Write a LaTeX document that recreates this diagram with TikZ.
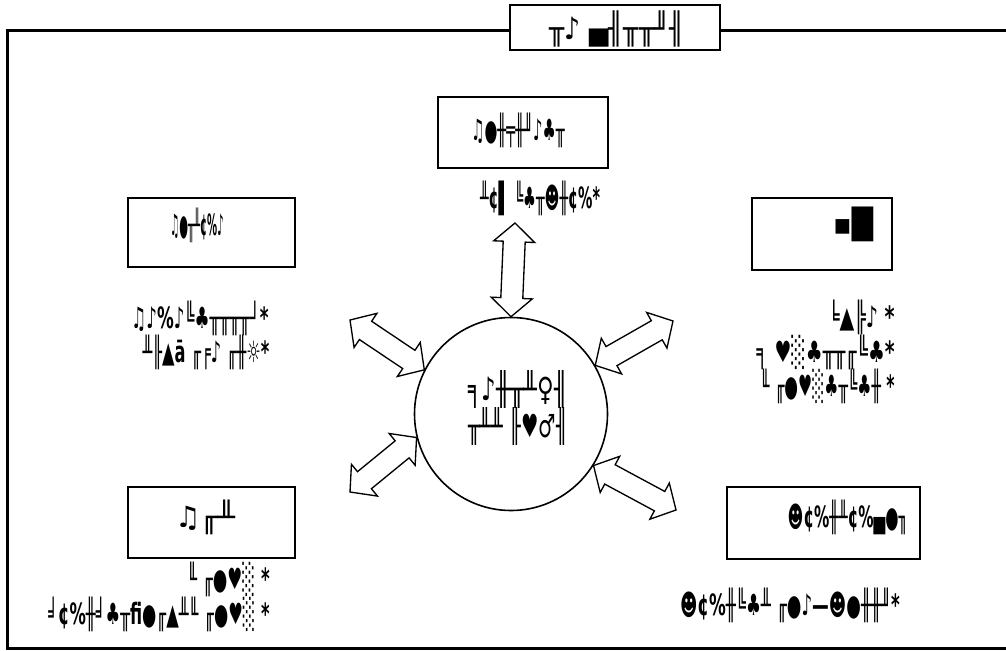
\documentclass[tikz,border=0pt]{standalone}
\usepackage{fontspec}
\setmainfont{DejaVu Sans}
\usetikzlibrary{calc}
\newcommand\fitw[2]{\resizebox{#1}{\height}{#2}}
% block double arrow between two named points: #1 prefix, #2 start, #3 end
\newcommand\blockarrow[3]{%
  \coordinate (#1a) at ($(#2)!14pt!(#3)$);
  \coordinate (#1b) at ($(#3)!14pt!(#2)$);
  \draw[barrow] (#2)
    -- ($(#1a)!15.4pt!90:(#3)$) -- ($(#1a)!8.25pt!90:(#3)$)
    -- ($(#1b)!8.25pt!90:(#3)$) -- ($(#1b)!15.4pt!90:(#3)$)
    -- (#3)
    -- ($(#1b)!15.4pt!-90:(#3)$) -- ($(#1b)!8.25pt!-90:(#3)$)
    -- ($(#1a)!8.25pt!-90:(#3)$) -- ($(#1a)!15.4pt!-90:(#3)$)
    -- cycle;}
\begin{document}
\begin{tikzpicture}[x=0.75pt,y=-0.75pt,
  lbl/.style={inner sep=0pt, font=\fontsize{22}{26}\bfseries\selectfont},
  big/.style={font=\fontsize{24}{28}\bfseries\selectfont},
  boxn/.style={draw, line width=1.5pt, inner sep=0pt, fill=white},
  barrow/.style={draw, fill=white, line width=1pt, line join=miter}]
\useasboundingbox (0,0) rectangle (1006,650);
\fill[white] (0,0) rectangle (1006,650);
% outer frame
\draw[line width=2.25pt] (1020,30) -- (7,30) -- (7,648) -- (1020,648);
% title
\node[boxn, line width=2pt, minimum width=157.5pt, minimum height=33.75pt] (titlebox) at (615,27.5) {};
\node[lbl, font=\fontsize{23}{27}\bfseries\selectfont] (title) at (617,29) {\fitw{101pt}{╥♪ ▄╢╥╥╜╢}};
% boxes
\node[boxn, minimum width=127.5pt, minimum height=53.25pt] (topbox) at (523,132.5) {};
\node[boxn, minimum width=125.25pt, minimum height=51.75pt] (leftbox) at (211.5,232.5) {};
\node[boxn, minimum width=105pt, minimum height=54pt] (rightbox) at (822,234) {};
\node[boxn, minimum width=125.25pt, minimum height=53.25pt] (blbox) at (211.5,522.5) {};
\node[boxn, minimum width=144.75pt, minimum height=54pt] (brbox) at (823.5,523) {};
% hub
\node[circle, draw, line width=1.2pt, minimum size=144.75pt, inner sep=0pt] (hub) at (511,414) {};
% box texts
\node[lbl] (toptext) at (518,130) {\fitw{70pt}{♫●╫╤╫╜♪♣╥}};
\node[lbl] (leftext) at (197,225) {\fitw{40pt}{♫●╥╨¢\%♪}};
\node[lbl] (rightext) at (853,224) {\fitw{30pt}{▪█}};
\node[lbl] (bltext) at (205,517) {\fitw{45pt}{♫╓╨}};
\node[lbl, anchor=east] (brtext) at (908,517) {\fitw{90pt}{☻¢\%╫╨¢\%▄●╖}};
% free texts
\node[lbl] (topsub) at (540,198) {\fitw{90pt}{╨¢▌ ╚♣╥☻╫¢\%*}};
\node[lbl] (left1) at (200,318) {\fitw{103pt}{♫♪\%♪╚♣╥╥╥╥┘*}};
\node[lbl] (left2) at (206,352) {\fitw{95pt}{╨╟▲ā ╓╒♪ ╓╫☼*}};
\node[lbl, anchor=east] (right1) at (895,317) {\fitw{50pt}{╘▲╠♪ *}};
\node[lbl, anchor=east] (right2) at (895,352) {\fitw{103.5pt}{╕ ♥░♣╥╥╓╚♣*}};
\node[lbl, anchor=east] (right3) at (895,386) {\fitw{101pt}{╙ ╓●♥░♣╥╚♣╫ *}};
\node[lbl, big] (hub1) at (518,389) {\fitw{75pt}{╕♪╫╥╨♀╢}};
\node[lbl, big] (hub2) at (518,426) {\fitw{75pt}{╥╨╨ ╟♥♂╢}};
\node[lbl, anchor=east] (bl1) at (270,579) {\fitw{62pt}{╙ ╓●♥░ *}};
\node[lbl, anchor=east] (bl2) at (270,614) {\fitw{166pt}{╛¢\%╫╛♣╥fi●╓▲╨╙ ╓●♥░ *}};
\node[lbl] (brline) at (790,605) {\fitw{165pt}{☻¢\%╫╚♣╨ ╓●♪—☻●╫╫╜*}};
% arrow ends
\coordinate (ptop) at (515,223);
\coordinate (pul) at (350,320);
\coordinate (pur) at (673,321);
\coordinate (pll) at (350,492);
\coordinate (plr) at (676,510);
\blockarrow{atop}{ptop}{hub.90}
\blockarrow{aul}{pul}{hub.153}
\blockarrow{aur}{pur}{hub.30}
\blockarrow{all}{pll}{hub.194}
\blockarrow{alr}{plr}{hub.328}
\end{tikzpicture}
\end{document}
